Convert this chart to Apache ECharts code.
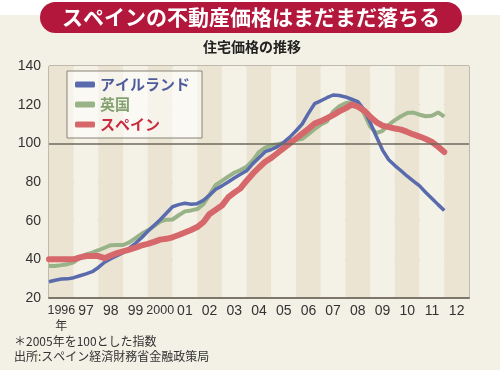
<!DOCTYPE html>
<html><head><meta charset="utf-8">
<script src="https://cdn.jsdelivr.net/npm/echarts@6/dist/echarts.min.js"></script>
<style>html,body{margin:0;padding:0;background:#f3f0e5}#c{width:500px;height:370px}</style>
</head><body><div id="c"></div>
<script>
// Year categories (one background band per year)
const years = ['1996','97','98','99','2000','01','02','03','04','05','06','07','08','09','10','11','12'];
// Quarterly index values, 1996Q1 .. 2012Q1 (2005 = 100)
const ireland = [28.4,29.2,29.8,29.9,30.5,31.5,32.5,33.6,
  35.8,38.5,40.3,41.9,43.5,45.8,48.3,51.2,
  54.5,57.5,60.5,63.8,67.2,68.3,69,68.5,
  68.8,70.5,73.2,76.2,78,80,82.1,84,
  85.8,89.5,92.5,95.7,96.8,98.3,100.5,103.2,
  106.5,110,115.5,120.5,122,123.6,125,124.7,
  124,122.8,121.6,117.5,110.8,103.5,96.5,91.5,
  88.5,85.8,83,80.5,78,74.6,71.5,68.3,65.2];
const uk = [36.6,36.6,37,37.5,38.5,40.8,42.5,43.5,
  44.7,46,47.3,47.4,47.4,48.8,51,53.2,
  55,57.2,59.5,60.5,60.6,62.8,64.8,65.3,
  66,68.5,73.5,78.5,80.6,82.8,84.8,86.2,
  87.9,91.2,95.5,97.8,99,99.6,100.2,101.4,
  101.7,102.3,104.7,107.4,109.7,111.3,116.5,119.2,
  120.7,121.3,120.5,115.5,108.6,105.3,106.5,109.6,
  112,114,115.7,115.9,114.8,114,114.3,116,113.8];
const spain = [40,40,40,40,40,41,41.7,41.7,
  41.7,40.6,42,43.2,44.1,45,46,47.2,
  48,49,50.2,50.6,51.4,52.6,53.9,55.2,
  56.7,59.2,63.5,65.6,67.8,72,74.5,76.7,
  80.7,84.3,87.5,90.5,92.5,95,97.5,100,
  102.5,105,107.5,110.2,111.5,113,114.6,116.5,
  118.1,120,119,117,113.8,111,109.2,108.4,
  107.7,107.1,105.9,104.6,103.5,102.2,100.7,98.3,95.5];
const seriesNames = ['アイルランド','英国','スペイン'];
const baseLine = 100;

// quarter categories 1996Q1 .. 2013Q1 (boundary positions)
const quarters = [];
for (let y = 1996; y <= 2013; y++) for (let q = 1; q <= 4; q++) {
  if (y === 2013 && q > 1) break;
  quarters.push(y + 'Q' + q);
}

const chart = echarts.init(document.getElementById('c'), null, {renderer: 'canvas'});
const jp = 'Noto Sans CJK JP';
chart.setOption({
  backgroundColor: '#f3f0e5',
  animation: false,
  graphic: [
    {type: 'rect', shape: {x: 0, y: 0, width: 500, height: 15}, style: {fill: '#ffffff'}, z: 0},
    {type: 'rect', shape: {x: 40, y: 2, width: 422, height: 31, r: 15.5}, style: {fill: '#b3173b'}, z: 1},
    {type: 'text', x: 251, y: 17, z: 2, style: {text: 'スペインの不動産価格はまだまだ落ちる', fill: '#ffffff', font: 'bold 21px "Noto Sans CJK JP"', textAlign: 'center', textVerticalAlign: 'middle'}},
    {type: 'text', x: 252, y: 47, z: 2, style: {text: '住宅価格の推移', fill: '#222222', font: 'bold 14px "Noto Sans CJK JP"', textAlign: 'center', textVerticalAlign: 'middle'}},
    {type: 'text', x: 14, y: 341, z: 2, style: {text: '＊2005年を100とした指数', fill: '#333333', font: '12px "Noto Sans CJK JP"', textVerticalAlign: 'middle'}},
    {type: 'text', x: 14, y: 356, z: 2, style: {text: '出所:スペイン経済財務省金融政策局', fill: '#333333', font: '12px "Noto Sans CJK JP"', textVerticalAlign: 'middle'}}
  ],
  grid: {left: 49, right: 31, top: 66, bottom: 72, show: true, borderColor: '#8a8376', borderWidth: 1, backgroundColor: 'transparent'},
  legend: {
    left: 67, top: 71, orient: 'vertical', itemGap: 5, padding: [6, 12, 6, 8],
    backgroundColor: 'rgba(255,255,255,0.55)', borderColor: '#8a8376', borderWidth: 1,
    itemWidth: 20, itemHeight: 6, icon: 'roundRect',
    textStyle: {fontFamily: jp, fontSize: 15, fontWeight: 'bold'},
    data: [
      {name: seriesNames[0], textStyle: {color: '#4e5c9c'}},
      {name: seriesNames[1], textStyle: {color: '#84a270'}},
      {name: seriesNames[2], textStyle: {color: '#c92a3f'}}
    ]
  },
  xAxis: [
    {
      type: 'category', data: years, boundaryGap: true, position: 'bottom',
      axisLine: {show: true, lineStyle: {color: '#7d766a', width: 2}},
      axisTick: {show: false},
      splitLine: {show: false},
      splitArea: {show: true, interval: 0, areaStyle: {color: ['#ebe4d2', '#f4f1e6']}},
      axisLabel: {
        interval: 0,
        margin: 6, color: '#333333', fontSize: 14, fontFamily: 'Liberation Sans', lineHeight: 14,
        formatter: function (v) {
          if (v === '1996') return '{n|1996}\n{j|年}';
          if (v.length === 4) return '{n|' + v + '}';
          return v;
        },
        rich: {
          n: {fontFamily: 'Liberation Sans', fontSize: 12.5, color: '#333333', lineHeight: 14},
          j: {fontFamily: jp, fontSize: 12, color: '#333333', lineHeight: 14}
        }
      }
    },
    {
      type: 'category', data: quarters, boundaryGap: false, show: false
    }
  ],
  yAxis: {
    type: 'value', min: 20, max: 140, interval: 20,
    axisLine: {show: false}, axisTick: {show: false},
    axisLabel: {color: '#333333', fontSize: 14, fontFamily: 'Liberation Sans', margin: 8},
    splitLine: {show: true, lineStyle: {color: '#a8a39a', type: [4, 4], width: 1}}
  },
  series: [
    {
      name: '_base', type: 'line', xAxisIndex: 1, data: [], silent: true, z: 1,
      markLine: {silent: true, symbol: 'none', label: {show: false},
        lineStyle: {color: '#6f695e', type: 'solid', width: 1.5},
        data: [{yAxis: baseLine}]}
    },
    {name: seriesNames[0], type: 'line', xAxisIndex: 1, data: ireland, showSymbol: false, z: 3,
      color: '#5a6bad', lineStyle: {width: 3.5, color: '#5a6bad'}},
    {name: seriesNames[1], type: 'line', xAxisIndex: 1, data: uk, showSymbol: false, z: 2,
      color: '#99b389', lineStyle: {width: 4, color: '#99b389'}},
    {name: seriesNames[2], type: 'line', xAxisIndex: 1, data: spain, showSymbol: false, z: 4,
      color: '#d6686b', lineStyle: {width: 6, color: '#d6686b', cap: 'round', join: 'round'}}
  ]
});
</script>
</body></html>
